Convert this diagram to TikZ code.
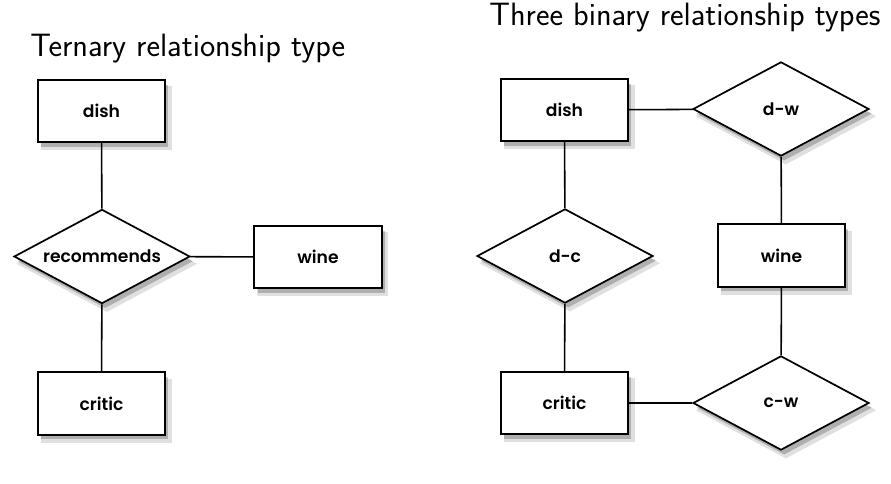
\documentclass[tikz,border=0pt]{standalone}
\usepackage{fontspec}
\newfontfamily\labelfont{Poppins}[UprightFont = *-SemiBold]
\usetikzlibrary{shapes.geometric, shadows}

\tikzset{
	soft shadow/.style = {
		general shadow = {fill = black, opacity = 0.12, shadow xshift = 3pt, shadow yshift = -4.5pt, shadow scale = 1.03},
		general shadow = {fill = black, opacity = 0.22, shadow xshift = 2pt, shadow yshift = -3pt}},
	entity/.style = {draw, line width = 1.3pt, fill = white, rectangle, minimum width = 2.86cm, minimum height = 1.4cm,
		font = \labelfont\fontsize{11}{13}\selectfont, soft shadow},
	relation/.style = {draw, line width = 1.1pt, fill = white, diamond, shape aspect = 1.87, inner sep = 0pt,
		minimum width = 3.96cm, minimum height = 2.12cm,
		font = \labelfont\fontsize{11}{13}\selectfont, soft shadow},
	heading/.style = {anchor = base west, inner sep = 0pt, font = \sffamily\fontsize{20.7}{24}\selectfont},
	link/.style = {line width = 1pt}
}

\begin{document}
\begin{tikzpicture}[x = 0.0225cm, y = -0.0225cm]
	\useasboundingbox (0,0) rectangle (891,483);

	% ternary
	\node [heading] (ternaryTitle) at (30,57) {Ternary relationship type};

	\node [entity] (dishA) at (101.5,111) {dish};
	\node [relation] (recommends) at (102,256.5) {recommends};
	\node [entity] (wineA) at (318,257) {wine};
	\node [entity] (criticA) at (101.5,403.5) {critic};

	\draw [link] (dishA) -- (recommends);
	\draw [link] (recommends) -- (wineA);
	\draw [link] (recommends) -- (criticA);

	% three binary
	\node [heading] (binaryTitle) at (489,26) {Three binary relationship types};

	\node [entity] (dishB) at (564.5,110) {dish};
	\node [relation] (dw) at (781,109) {d-w};
	\node [relation] (dc) at (565,256) {d-c};
	\node [entity] (wineB) at (781.5,255.5) {wine};
	\node [entity] (criticB) at (564.5,403) {critic};
	\node [relation] (cw) at (781,403) {c-w};

	\draw [link] (dishB) -- (dw);
	\draw [link] (dw) -- (wineB);
	\draw [link] (dishB) -- (dc);
	\draw [link] (dc) -- (criticB);
	\draw [link] (criticB) -- (cw);
	\draw [link] (wineB) -- (cw);
\end{tikzpicture}
\end{document}
